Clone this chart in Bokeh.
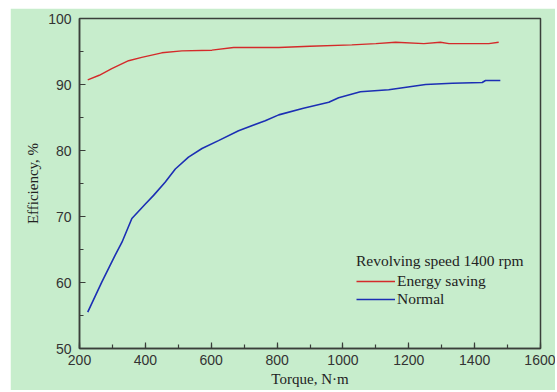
from bokeh.plotting import figure
from bokeh.models import Legend, LegendItem, Range1d, FixedTicker
from bokeh.embed import file_html
from bokeh.resources import INLINE

# Data
torque_saving = [225, 260, 298, 349, 389, 450, 511, 602, 668, 805, 900, 1027, 1100, 1160, 1246, 1296, 1322, 1443, 1473]
eff_saving = [90.7, 91.4, 92.4, 93.6, 94.1, 94.8, 95.1, 95.2, 95.6, 95.6, 95.8, 96.0, 96.2, 96.4, 96.2, 96.4, 96.2, 96.2, 96.4]

torque_normal = [225, 268, 308, 329, 359, 400, 425, 460, 491, 531, 572, 622, 683, 764, 805, 880, 957, 987, 1053, 1139, 1251, 1332, 1423, 1433, 1478]
eff_normal = [55.5, 60.1, 64.1, 66.1, 69.7, 71.9, 73.2, 75.2, 77.2, 79.0, 80.3, 81.5, 83.0, 84.5, 85.4, 86.4, 87.3, 88.0, 88.9, 89.2, 90.0, 90.2, 90.3, 90.6, 90.6]

x_ticks = [200, 400, 600, 800, 1000, 1200, 1400, 1600]
y_ticks = [50, 60, 70, 80, 90, 100]

title_text = "Revolving speed 1400 rpm"
series_names = ["Energy saving", "Normal"]

BG = "#C7EDCC"
AX = "#3a3f3a"

p = figure(width=545, height=382, output_backend="svg", toolbar_location=None,
           x_range=Range1d(200, 1600), y_range=Range1d(50, 100),
           min_border_left=69, min_border_right=15, min_border_top=10, min_border_bottom=42)
p.margin = (8, 0, 0, 10)
p.background_fill_color = BG
p.border_fill_color = BG
p.outline_line_color = AX
p.outline_line_width = 1.5
p.xgrid.visible = False
p.ygrid.visible = False

r1 = p.line(torque_saving, eff_saving, line_color="#d42a2a", line_width=1.4)
r2 = p.line(torque_normal, eff_normal, line_color="#1c2fb4", line_width=1.6)

for ax in (p.xaxis[0], p.yaxis[0]):
    ax.axis_line_color = AX
    ax.axis_line_width = 1.5
    ax.major_tick_line_color = AX
    ax.minor_tick_line_color = AX
    ax.major_tick_line_width = 1.2
    ax.minor_tick_line_width = 1.2
    ax.major_tick_in = 6
    ax.major_tick_out = 0
    ax.minor_tick_in = 4
    ax.minor_tick_out = 0
    ax.major_label_text_font = "Liberation Sans"
    ax.major_label_text_font_size = "14px"
    ax.major_label_text_color = "#333333"
    ax.axis_label_text_font = "Liberation Serif"
    ax.axis_label_text_font_size = "15px"
    ax.axis_label_text_font_style = "normal"
    ax.axis_label_text_color = "#222222"

p.xaxis[0].ticker = FixedTicker(ticks=x_ticks, minor_ticks=list(range(200, 1601, 100)))
p.yaxis[0].ticker = FixedTicker(ticks=y_ticks, minor_ticks=list(range(50, 101, 5)))
p.xaxis[0].axis_label = "Torque, N\u00b7m"
p.yaxis[0].axis_label = "Efficiency, %"
p.xaxis[0].major_label_standoff = 6
p.xaxis[0].axis_label_standoff = 3
p.yaxis[0].major_label_standoff = 8
p.yaxis[0].axis_label_standoff = 4

legend = Legend(items=[LegendItem(label=series_names[0], renderers=[r1]),
                       LegendItem(label=series_names[1], renderers=[r2])],
                location=(277, 40), title=title_text)
legend.title_text_font = "Liberation Serif"
legend.title_text_font_size = "15.5px"
legend.title_text_font_style = "normal"
legend.title_text_color = "#222222"
legend.title_standoff = 2
legend.label_text_font = "Liberation Serif"
legend.label_text_font_size = "15.5px"
legend.label_text_color = "#222222"
legend.background_fill_alpha = 0
legend.border_line_alpha = 0
legend.padding = 0
legend.margin = 0
legend.spacing = 0
legend.glyph_width = 39
legend.glyph_height = 16
legend.label_height = 16
legend.label_standoff = 2
p.add_layout(legend, "center")

open("out.html", "w").write(file_html(p, INLINE))
